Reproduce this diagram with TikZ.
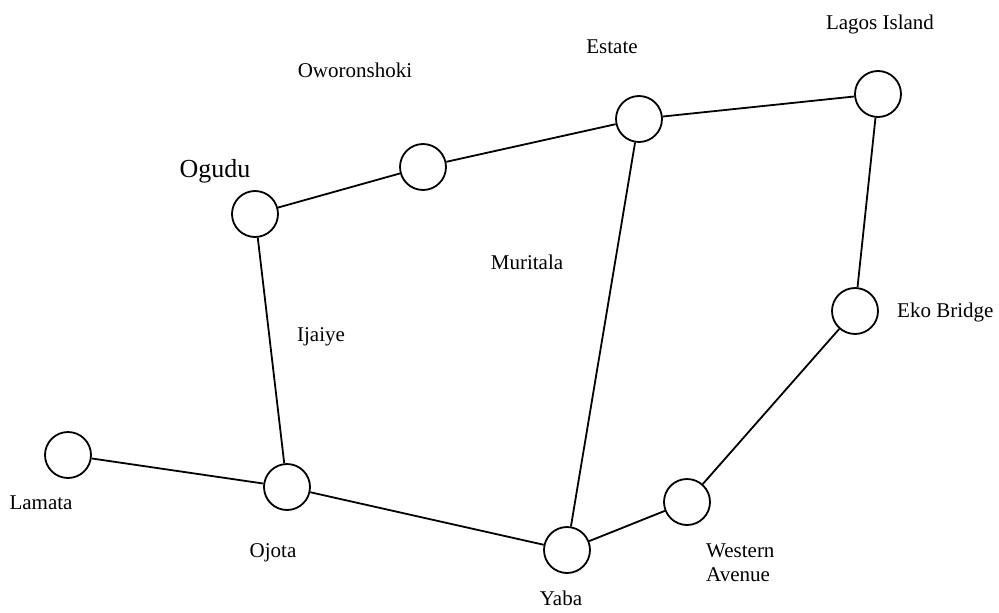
\documentclass[tikz,border=0pt]{standalone}
\usepackage{fontspec}
\setmainfont{Liberation Serif}
\begin{document}
\begin{tikzpicture}[x=1pt,y=-1pt,
  stn/.style={circle,draw,line width=1.8pt,minimum size=46pt,inner sep=0pt},
  lbl/.style={font=\fontsize{21}{24}\selectfont,inner sep=0pt,anchor=base},
  edge/.style={line width=1.8pt}]
\useasboundingbox (0,0) rectangle (999,613);
\node[stn] (lamata) at (68,455) {};
\node[stn] (ojota) at (287,487) {};
\node[stn] (yaba) at (567,550) {};
\node[stn] (western) at (687,502) {};
\node[stn] (eko) at (855,311) {};
\node[stn] (lagos) at (878,94) {};
\node[stn] (estate) at (639,119) {};
\node[stn] (oworo) at (423,167) {};
\node[stn] (ogudu) at (255,214) {};

\draw[edge] (lamata) -- (ojota);
\draw[edge] (ogudu) -- (ojota);
\draw[edge] (ojota) -- (yaba);
\draw[edge] (yaba) -- (estate);
\draw[edge] (yaba) -- (western);
\draw[edge] (western) -- (eko);
\draw[edge] (eko) -- (lagos);
\draw[edge] (lagos) -- (estate);
\draw[edge] (estate) -- (oworo);
\draw[edge] (oworo) -- (ogudu);

\node[lbl] (tlamata) at (41,509) {Lamata};
\node[lbl] (tojota) at (273,557) {Ojota};
\node[lbl] (tyaba) at (561,605) {Yaba};
\node[lbl,anchor=base west] (twestern) at (706,557) {Western};
\node[lbl,anchor=base west] (tavenue) at (706,581) {Avenue};
\node[lbl,anchor=base west] (teko) at (897,317) {Eko Bridge};
\node[lbl] (tlagos) at (880,29) {Lagos Island};
\node[lbl] (testate) at (612,53) {Estate};
\node[lbl] (toworo) at (355,77) {Oworonshoki};
\node[lbl,font=\fontsize{26}{30}\selectfont] (togudu) at (215,177) {Ogudu};
\node[lbl] (tmuritala) at (527,269) {Muritala};
\node[lbl] (tijaiye) at (321,341) {Ijaiye};
\end{tikzpicture}
\end{document}
